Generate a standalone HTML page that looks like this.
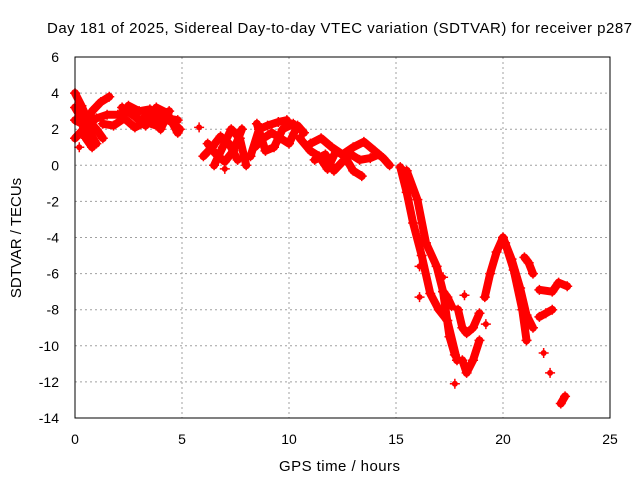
<!DOCTYPE html>
<html><head><meta charset="utf-8"><style>
body{margin:0;background:#fff}
svg{display:block;font-family:"Liberation Sans",sans-serif}
</style></head><body>
<svg id="chart" width="640" height="480" viewBox="0 0 640 480">
<text x="47" y="33" font-size="15" textLength="585" lengthAdjust="spacing">Day 181 of 2025, Sidereal Day-to-day VTEC variation (SDTVAR) for receiver p287</text>
<text x="279" y="471" font-size="15" textLength="121" lengthAdjust="spacing">GPS time / hours</text>
<text transform="translate(21,238) rotate(-90)" font-size="15" text-anchor="middle">SDTVAR / TECUs</text>
<g id="grid"></g>
<g id="ticks"></g>
<g id="marks"></g>
<rect x="75" y="57" width="535" height="361" fill="none" stroke="#000" stroke-width="1"/>
</svg>
<script>
const xTicks=[0,5,10,15,20,25];
const yTicks=[6,4,2,0,-2,-4,-6,-8,-10,-12,-14];
const arcs=[
[[0,4.0],[0.3,3.3],[0.6,2.5],[1.0,2.0],[1.3,1.5]],
[[0,1.5],[0.4,2],[0.8,3],[1.2,3.5],[1.6,3.8]],
[[0,3.2],[0.3,2.6],[0.7,1.8],[1.0,1.2]],
[[0,2.5],[0.5,2.2],[1,2.6],[1.5,2.8],[2,2.8],[2.5,3],[3,2.5],[3.5,2.8],[4,2.7],[4.5,2.4],[4.9,2]],
[[1.3,2.3],[1.8,2.2],[2.3,2.6],[2.8,2.1],[3.3,2.4],[3.8,2.2],[4.3,2.6],[4.8,2.5]],
[[2.2,3.2],[2.8,2.7],[3.3,2.2],[3.8,3.2],[4.3,2.9],[4.8,1.8]],
[[2.5,3.3],[3.0,3.0],[3.5,3.1],[4.0,2.0],[4.4,3.0]],
[[0.2,3.0],[0.5,1.5],[0.8,1.0]],
[[6,0.5],[6.4,1],[6.8,1.6],[7.2,1.2],[7.6,0.3]],
[[6.5,0],[6.9,1],[7.3,2],[7.7,1.5],[8,0]],
[[6.2,1.2],[6.6,0.6],[7.0,0.2],[7.4,0.8],[7.8,2.0]],
[[8.2,0.5],[8.6,2],[9,2.2],[9.5,2.4],[9.9,2.5]],
[[8.4,1],[8.8,1.5],[9.2,1.8],[9.6,1.5],[10,1.2],[10.4,2.2],[10.7,1.8]],
[[8.5,2.3],[8.9,0.8],[9.3,1.0],[9.7,2.0],[10.2,2.3]],
[[10.5,1.5],[11,0.8],[11.4,0.5],[11.8,-0.2],[12.2,0.8],[12.6,0.5],[13,-0.3],[13.4,-0.6]],
[[11,1.2],[11.5,1.5],[12,1],[12.5,0.6],[13,1],[13.5,1.3],[14,0.8],[14.4,0.4],[14.7,0]],
[[11.2,0.3],[11.7,0.6],[12.1,-0.3],[12.5,0.2],[12.9,0.6],[13.3,0.3],[13.8,0.4],[14.2,0.6]],
[[15.2,-0.1],[15.5,-1.5],[15.8,-3.2],[16.2,-5],[16.6,-7.1],[17.0,-8],[17.4,-8.6],[17.85,-10.8]],
[[15.5,-0.3],[16.0,-1.9],[16.4,-4.3],[16.9,-5.6],[17.2,-7.0],[17.5,-9.5],[17.75,-10.5]],
[[17.2,-7.0],[17.4,-7.3],[17.6,-7.8]],
[[17.9,-8],[18.1,-9],[18.3,-9.3],[18.6,-9.0],[18.9,-8.2]],
[[18.1,-10.8],[18.3,-11.5],[18.6,-10.8],[18.9,-9.7]],
[[19.15,-7.3],[19.4,-6],[19.7,-4.8],[20.0,-4.0]],
[[20.0,-4.0],[20.4,-5.2],[20.8,-6.8],[21.1,-8.3],[21.4,-9.0]],
[[20.1,-4.3],[20.5,-5.8],[20.9,-8],[21.1,-9.7]],
[[21.0,-5.1],[21.2,-5.4],[21.4,-6.0]],
[[21.7,-6.9],[22.3,-7.0],[22.6,-6.5],[23.0,-6.7]],
[[21.7,-8.4],[22.0,-8.2],[22.3,-8.0]],
[[22.7,-13.2],[22.9,-12.8]]
];
const singles=[[5.8,2.1],[17.75,-12.1],[21.9,-10.4],[22.2,-11.5],[16.1,-7.3],[16.1,-5.6],[19.2,-8.8],[18.2,-7.2],[0.2,1.0],[7.0,-0.2],[17.2,-6.2]];
const NS="http://www.w3.org/2000/svg";
const X=t=>75+t*535/25, Y=v=>57+(6-v)*361/20;
const grid=document.getElementById('grid'),ticks=document.getElementById('ticks'),marks=document.getElementById('marks');
function mk(tag,attrs,parent){const e=document.createElementNS(NS,tag);for(const k in attrs)e.setAttribute(k,attrs[k]);parent.appendChild(e);return e;}
xTicks.forEach(t=>{
 if(t>0&&t<25){const g=mk('line',{x1:X(t),x2:X(t),y1:57,y2:418,stroke:'#a0a0a0','stroke-dasharray':'2,3'},grid);
 
 }
 const l=mk('text',{x:X(t),y:444,'font-size':14,'text-anchor':'middle'},ticks);l.textContent=t;
 
 
});
yTicks.forEach(v=>{
 if(v<6&&v>-14){const g=mk('line',{x1:75,x2:610,y1:Y(v),y2:Y(v),stroke:'#a0a0a0','stroke-dasharray':'2,3'},grid);
 
 }
 const l=mk('text',{x:59,y:Y(v)+5,'font-size':14,'text-anchor':'end'},ticks);l.textContent=v;
 
 
});
function plus(t,v){const x=X(t),y=Y(v);
 const p=mk('path',{d:`M${x-5},${y}H${x+5}M${x},${y-5}V${y+5}`,stroke:'#f00','stroke-width':1.5},marks);
 
 }
arcs.forEach(a=>{
 const pl=mk('polyline',{points:a.map(p=>X(p[0])+','+Y(p[1])).join(' '),fill:'none',stroke:'#f00','stroke-width':8,'stroke-linecap':'round','stroke-linejoin':'round'},marks);
 
 
 a.forEach(p=>plus(p[0],p[1]));
});
singles.forEach(p=>{
 const c=mk('circle',{cx:X(p[0]),cy:Y(p[1]),r:3,fill:'#f00'},marks);
 
 
 plus(p[0],p[1]);
});
</script>
</body></html>
